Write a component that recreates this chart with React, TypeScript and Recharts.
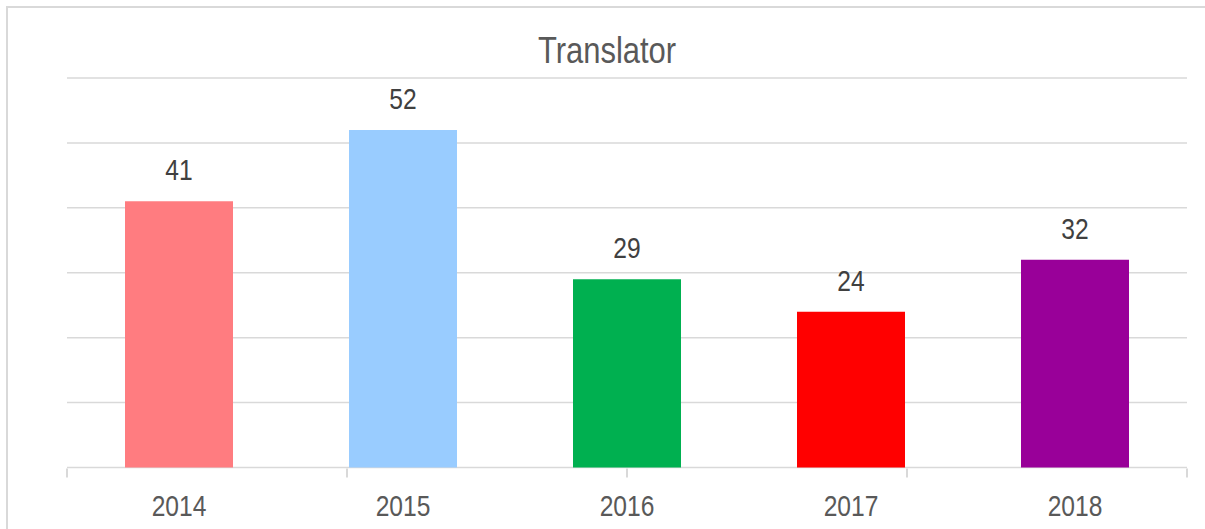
import React from 'react'
import {
  Bar,
  BarChart,
  CartesianGrid,
  Cell,
  LabelList,
  XAxis,
  YAxis
} from 'recharts'

const years = ['2014', '2015', '2016', '2017', '2018']
const counts = [41, 52, 29, 24, 32]
const barColors = ['#FF7C80', '#99CCFF', '#00B050', '#FF0000', '#990099']
const yTicks = [0, 10, 20, 30, 40, 50, 60]
const edgeTicks = [0, 1, 2, 3, 4, 5]

const chartData = years.map((year, i) => ({ year, count: counts[i] }))

const font = "'Liberation Sans', Arial, sans-serif"
// no narrow font installed, so squeeze the text horizontally
const squeeze = 0.82

const YearTick = (props: any) => {
  const { x, y, payload } = props
  return (
    <g transform={`translate(${x},${y})`}>
      <text
        transform={`scale(${squeeze},1)`}
        textAnchor='middle'
        dy='0.71em'
        fill='#595959'
        fontSize={30}
        fontFamily={font}>
        {payload.value}
      </text>
    </g>
  )
}

const ValueLabel = (props: any) => {
  const { x, y, width, value } = props
  const cx = Number(x) + Number(width) / 2
  return (
    <g transform={`translate(${cx},${Number(y) - 21})`}>
      <text
        transform={`scale(${squeeze},1)`}
        textAnchor='middle'
        fill='#404040'
        fontSize={30}
        fontFamily={font}>
        {value}
      </text>
    </g>
  )
}

const App = () => {
  return (
    <div
      style={{
        position: 'fixed',
        left: 0,
        top: 0,
        width: 1205,
        height: 529,
        overflow: 'hidden',
        background: '#fff'
      }}>
      <div
        style={{
          position: 'absolute',
          left: 6,
          top: 6,
          width: 1230,
          height: 560,
          border: '2px solid #d9d9d9',
          boxSizing: 'border-box'
        }}>
        <div
          style={{
            position: 'absolute',
            left: 0,
            top: 24.5,
            width: 1198,
            textAlign: 'center',
            fontFamily: font,
            fontSize: 36,
            lineHeight: '36px',
            color: '#595959',
            transform: 'scaleX(0.86)'
          }}>
          Translator
        </div>
        <BarChart
          width={1200}
          height={530}
          data={chartData}
          margin={{ top: 70, right: 21, bottom: 68.5, left: 59 }}>
          <CartesianGrid
            vertical={false}
            stroke='#d9d9d9'
            strokeWidth={1.5}
          />
          <XAxis
            dataKey='year'
            height={1}
            axisLine={false}
            tickLine={false}
            tickSize={0}
            tickMargin={27}
            tick={<YearTick />}
          />
          <XAxis
            xAxisId='edges'
            type='number'
            domain={[0, 5]}
            ticks={edgeTicks}
            tickFormatter={() => ''}
            tickSize={9}
            height={1}
            axisLine={false}
            tickLine={{ stroke: '#d9d9d9', strokeWidth: 2 }}
          />
          <YAxis hide domain={[0, 60]} ticks={yTicks} />
          <Bar dataKey='count' barSize={108} isAnimationActive={false}>
            {chartData.map((_entry, index) => (
              <Cell key={`cell-${index}`} fill={barColors[index]} />
            ))}
            <LabelList dataKey='count' content={<ValueLabel />} />
          </Bar>
        </BarChart>
      </div>
    </div>
  )
}

export default App
